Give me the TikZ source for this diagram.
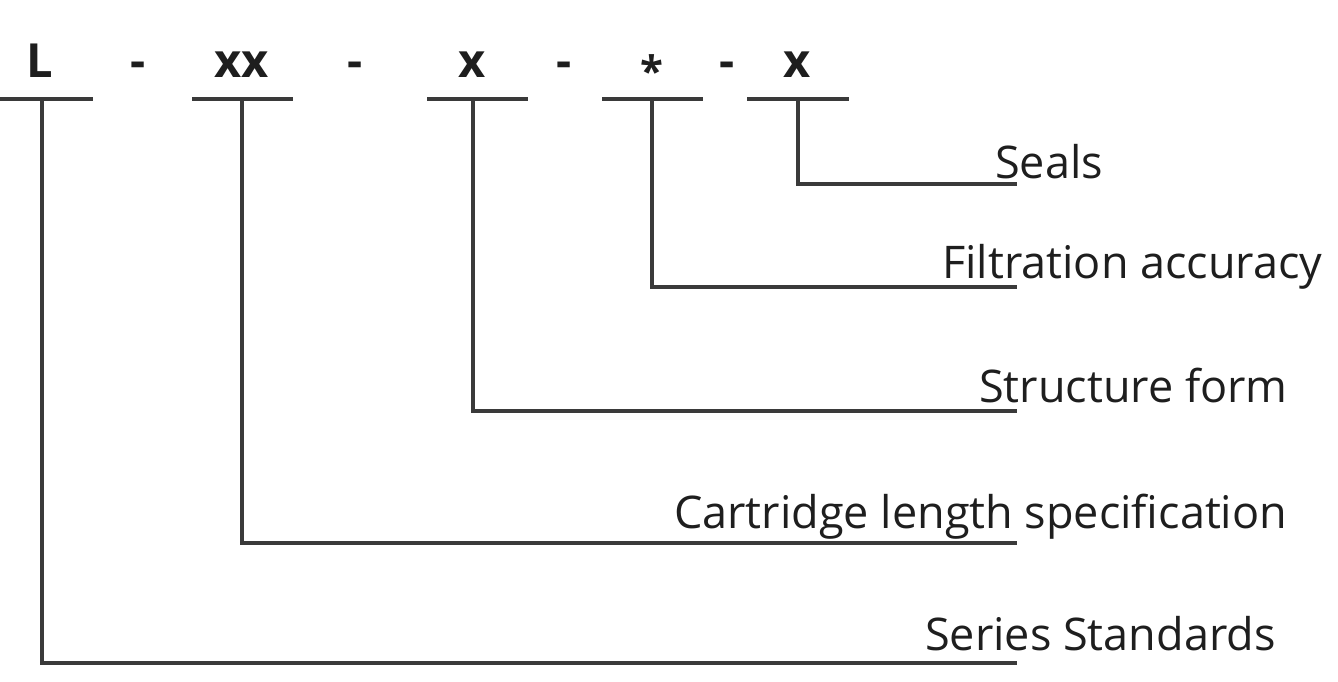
\documentclass[tikz,border=0pt]{standalone}
\usepackage{fontspec}
\setmainfont{Open Sans}
\definecolor{linegray}{HTML}{3A3A3A}
\definecolor{txt}{HTML}{1E1E1E}
\begin{document}
\begin{tikzpicture}[x=1pt,y=-1pt,
  conn/.style={line width=3.6pt, draw=linegray, line join=miter},
  code/.style={font=\fontsize{47}{47}\selectfont\bfseries, anchor=base, inner sep=0pt, text=txt},
  lab/.style={font=\fontsize{45}{45}\selectfont, anchor=base west, inner sep=0pt, text=txt}]
\useasboundingbox (0,0) rectangle (1338,681);
% code letters
\node[code] (cL) at (40,77) {L};
\node[code] (d1) at (138,77) {-};
\node[code] (cXX) at (242,77) {xx};
\node[code] (d2) at (355,77) {-};
\node[code] (cX1) at (472,77) {x};
\node[code] (d3) at (564,77) {-};
\node[code,font=\fontsize{42}{42}\selectfont\bfseries] (cS) at (652,86) {*};
\node[code] (d4) at (727,77) {-};
\node[code] (cX2) at (797,77) {x};
% underlines
\coordinate (uL1) at (0,99);   \coordinate (uL2) at (93,99);
\coordinate (uA1) at (192,99); \coordinate (uA2) at (293,99);
\coordinate (uB1) at (427,99); \coordinate (uB2) at (528,99);
\coordinate (uC1) at (602,99); \coordinate (uC2) at (703,99);
\coordinate (uD1) at (747,99); \coordinate (uD2) at (849,99);
\foreach \a in {L,A,B,C,D} {\draw[conn] (u\a1) -- (u\a2);}
% labels
\node[lab] (lSeals) at (995,178) {Seals};
\node[lab] (lFilt) at (942,278) {Filtration accuracy};
\node[lab] (lStruct) at (979,402) {Structure form};
\node[lab] (lCart) at (674,528) {Cartridge length specification};
\node[lab] (lSeries) at (925,650) {Series Standards};
% connector ends
\coordinate (eD) at (1017,184);
\coordinate (eC) at (1017,287);
\coordinate (eB) at (1017,411);
\coordinate (eA) at (1017,543);
\coordinate (eL) at (1017,663);
\draw[conn] (798,99) |- (eD);
\draw[conn] (652,99) |- (eC);
\draw[conn] (473,99) |- (eB);
\draw[conn] (242,99) |- (eA);
\draw[conn] (42,99) |- (eL);
\end{tikzpicture}
\end{document}
